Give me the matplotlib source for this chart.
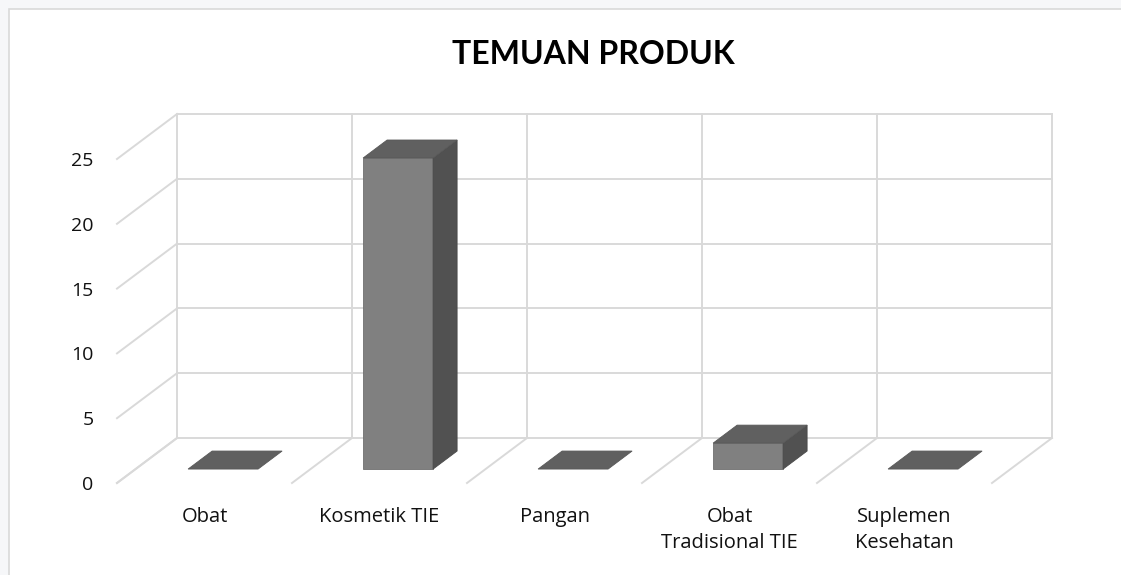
import matplotlib
matplotlib.use("Agg")
import matplotlib.pyplot as plt
from matplotlib.patches import Polygon, Rectangle

categories = ["Obat", "Kosmetik TIE", "Pangan", "Obat\nTradisional TIE", "Suplemen\nKesehatan"]
values = [0, 24, 0, 2, 0]
yticks = [0, 5, 10, 15, 20, 25]
title = "TEMUAN PRODUK"

W, H, DPI = 1121, 575, 100
fig = plt.figure(figsize=(W / DPI, H / DPI), dpi=DPI)
fig.patch.set_facecolor("#f6f7f9")

# chart area (white panel)
panel = Rectangle((9 / W, -0.05), 1.1, (H - 9) / H + 0.05, transform=fig.transFigure,
                  facecolor="white", edgecolor="#d9d9d9", lw=1.2, zorder=-5)
fig.patches.append(panel)

# axes: front floor edge
left_px, right_px = 117, 992
floor_px, top_px = 483, 159
ax = fig.add_axes([left_px / W, (H - floor_px) / H, (right_px - left_px) / W, (floor_px - top_px) / H])
ax.set_zorder(2)
ax.set_xlim(0, len(categories))
ax.set_ylim(0, 25)
ax.patch.set_alpha(0)
for s in ax.spines.values():
    s.set_visible(False)

n = len(categories)
# depth offset in data units
px_per_x = (right_px - left_px) / n
px_per_y = (floor_px - top_px) / 25
dx = 60 / px_per_x
dy = 45 / px_per_y

gc = "#d9d9d9"
glw = 1.4
ymax = yticks[-1]
for v in yticks:
    ax.plot([dx, n + dx], [v + dy, v + dy], color=gc, lw=glw, clip_on=False, zorder=1)
    ax.plot([0, dx], [v, v + dy], color=gc, lw=glw, clip_on=False, zorder=1)
for i in range(n + 1):
    ax.plot([i + dx, i + dx], [dy, ymax + dy], color=gc, lw=glw, clip_on=False, zorder=1)
    ax.plot([i, i + dx], [0, dy], color=gc, lw=glw, clip_on=False, zorder=1)

# bars
f0, f1 = 0.31, 0.71
bw = 0.4
c_front, c_top, c_side = "#808080", "#606060", "#515151"
for i, v in enumerate(values):
    xl = i + (1 - bw) / 2
    xr = xl + bw
    x0l, x0r = xl + f0 * dx, xr + f0 * dx
    x1l, x1r = xl + f1 * dx, xr + f1 * dx
    y0, y1 = f0 * dy, f1 * dy
    if v > 0:
        ax.add_patch(Polygon([(x0l, y0), (x0r, y0), (x0r, y0 + v), (x0l, y0 + v)],
                             closed=True, facecolor=c_front, edgecolor="#707070", lw=0.6,
                             clip_on=False, zorder=3))
        ax.add_patch(Polygon([(x0r, y0), (x1r, y1), (x1r, y1 + v), (x0r, y0 + v)],
                             closed=True, facecolor=c_side, edgecolor="#4a4a4a", lw=0.6,
                             clip_on=False, zorder=3))
    ax.add_patch(Polygon([(x0l, y0 + v), (x0r, y0 + v), (x1r, y1 + v), (x1l, y1 + v)],
                         closed=True, facecolor=c_top, edgecolor="#585858", lw=0.6,
                         clip_on=False, zorder=3))

ax.set_yticks(yticks)
ax.set_yticklabels([str(t) for t in yticks])
ax.set_xticks([i + 0.5 for i in range(n)])
ax.set_xticklabels(categories, linespacing=1.45)
ax.tick_params(axis="y", length=0, pad=17, labelsize=14, labelcolor="#111111")
ax.tick_params(axis="x", length=0, pad=17, labelsize=14.5, labelcolor="#111111")
for lab in ax.get_xticklabels() + ax.get_yticklabels():
    lab.set_fontfamily("Open Sans")

fig.text(593 / W, 1 - 54 / H, title, ha="center", va="center",
         fontsize=23, fontweight="bold", family="Lato", color="black")

fig.savefig("out.png", dpi=DPI, facecolor=fig.get_facecolor())
